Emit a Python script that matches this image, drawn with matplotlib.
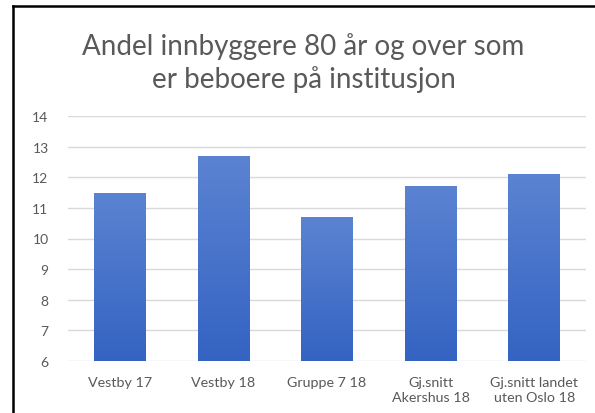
import matplotlib.pyplot as plt
import numpy as np
from matplotlib.lines import Line2D
from matplotlib.colors import LinearSegmentedColormap

categories = ['Vestby 17', 'Vestby 18', 'Gruppe 7 18', 'Gj.snitt\nAkershus 18', 'Gj.snitt landet\nuten Oslo 18']
values = [11.5, 12.7, 10.7, 11.7, 12.1]
yticks = [6, 7, 8, 9, 10, 11, 12, 13, 14]

plt.rcParams['font.family'] = ['Lato', 'DejaVu Sans']
txt = '#595959'

fig = plt.figure(figsize=(5.95, 4.14), dpi=100)
ax = fig.add_axes([68/595, 1-362/414, (586-68)/595, (362-117)/414])

x = np.arange(len(categories))
bars = ax.bar(x, values, width=0.5, color='none', zorder=2)

cmap = LinearSegmentedColormap.from_list('bar', ['#3463c2', '#5b83d2'])
grad = np.linspace(0, 1, 256).reshape(-1, 1)
for b in bars:
    x0, w, h = b.get_x(), b.get_width(), b.get_height()
    im = ax.imshow(grad, cmap=cmap, origin='lower', aspect='auto',
                   extent=[x0, x0 + w, 6, h], zorder=2)
    im.set_clip_path(b)

ax.set_xlim(-0.5, len(categories) - 0.5)
ax.set_ylim(6, 14)
ax.set_yticks(yticks)
ax.set_xticks(x)
ax.set_xticklabels(categories, fontsize=10.3, color=txt, linespacing=1.3)
ax.tick_params(axis='y', labelsize=10, labelcolor=txt, length=0, pad=14)
ax.tick_params(axis='x', length=0, pad=11)
ax.grid(axis='y', color='#d9d9d9', linewidth=1, zorder=0)
ax.set_axisbelow(True)
for s in ax.spines.values():
    s.set_visible(False)

fig.text(0.51, 1-55/414, 'Andel innbyggere 80 år og over som',
         ha='center', va='baseline', fontsize=20, color=txt)
fig.text(0.51, 1-88/414, 'er beboere på institusjon',
         ha='center', va='baseline', fontsize=20, color=txt)

# screenshot frame (left and top edges)
fig.add_artist(Line2D([13/595, 13/595], [0, 1-7/414], transform=fig.transFigure, color='black', linewidth=1.8))
fig.add_artist(Line2D([13/595, 1], [1-7/414, 1-7/414], transform=fig.transFigure, color='black', linewidth=1.8))

fig.savefig('out.png', dpi=100)
